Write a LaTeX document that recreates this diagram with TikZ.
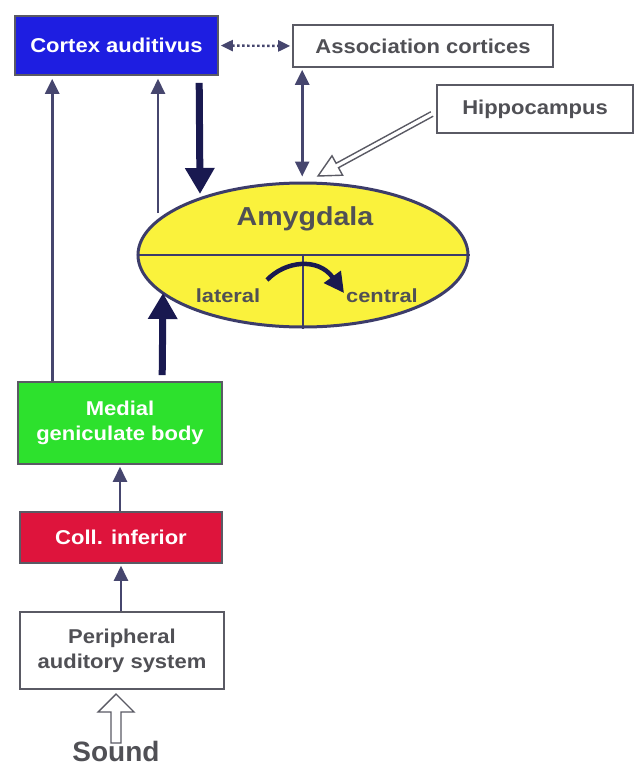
\documentclass[tikz,border=0pt]{standalone}
\usepackage{fontspec}
\setmainfont{Liberation Sans}
\usetikzlibrary{arrows.meta,shapes.geometric,calc}
\definecolor{cblue}{RGB}{30,30,225}
\definecolor{cgreen}{RGB}{45,225,45}
\definecolor{cred}{RGB}{222,20,60}
\definecolor{cyel}{RGB}{250,242,60}
\definecolor{txt}{RGB}{80,80,85}
\definecolor{arr}{RGB}{70,70,110}
\definecolor{navy}{RGB}{25,25,80}
\definecolor{bord}{RGB}{90,90,100}
\newcommand{\wdA}[1]{\scalebox{1.1}[1]{#1}}
\newcommand{\wdB}[1]{\scalebox{1.15}[1]{#1}}
\begin{document}
\begin{tikzpicture}[x=1pt,y=-1pt,
  box/.style={draw=bord,line width=1.6pt,rectangle,inner sep=0pt,align=center,font=\bfseries\fontsize{20}{25}\selectfont,text=txt},
  cbox/.style={box,text=white},
  thinarrow/.style={draw=arr,line width=2.6pt,-{Triangle[length=15pt,width=14pt]}},
  botharrow/.style={draw=arr,line width=2.6pt,{Triangle[length=15pt,width=14pt]}-{Triangle[length=15pt,width=14pt]}},
  dotarrow/.style={draw=arr,line width=2.4pt,dash pattern=on 2.5pt off 2.5pt,{Triangle[length=12pt,width=11pt]}-{Triangle[length=12pt,width=11pt]}},
  thickarrow/.style={draw=navy,line width=7pt,-{Triangle[length=26pt,width=28pt]}},
  openarrow/.style={draw=bord,line width=1.4pt,fill=white,line join=miter},
  intext/.style={font=\bfseries\fontsize{19}{22}\selectfont,text=txt}
]
\useasboundingbox (0,0) rectangle (636,769);
\fill[white] (0,0) rectangle (636,769);

\node[cbox,fill=cblue,minimum width=203pt,minimum height=59pt] (cortex) at (116.5,45.5) {\wdA{Cortex auditivus}};
\node[box,minimum width=260pt,minimum height=42pt] (assoc) at (423,46) {\wdA{Association cortices}};
\node[box,minimum width=196pt,minimum height=48pt] (hippo) at (535,109) {\wdA{Hippocampus}};
\node[cbox,fill=cgreen,minimum width=204pt,minimum height=82pt] (mgb) at (120,423) {\wdA{Medial}\\\wdA{geniculate body}};
\node[cbox,fill=cred,minimum width=202pt,minimum height=51pt] (coll) at (121,537.5) {\wdA{Coll. inferior}};
\node[box,minimum width=204pt,minimum height=77pt] (periph) at (122,650.5) {\wdA{Peripheral}\\\wdA{auditory system}};

\node[ellipse,draw=navy!85,line width=3pt,fill=cyel,minimum width=330pt,minimum height=144pt,inner sep=0pt] (amy) at (303,255) {};
\draw[navy!85,line width=1.6pt] (amy.west) -- (amy.east);
\draw[navy!85,line width=1.6pt] (amy.center) -- (amy.south);
\node[font=\bfseries\fontsize{26}{30}\selectfont,text=txt] (amytxt) at (305,219) {\wdA{Amygdala}};
\node[intext] (lat) at (228,296) {\wdB{lateral}};
\node[intext] (cen) at (382,296) {\wdB{central}};
\coordinate (cs) at (267,280);
\coordinate (ce) at (344,293);
\draw[navy,line width=4.5pt,-{Triangle[length=20pt,width=20pt]}] (cs) .. controls (285,261) and (318,257) .. (ce);

% connectors
\draw[dotarrow,shorten <=2pt,shorten >=2pt] (cortex.east) -- (assoc.west);
\coordinate (atop) at ($(assoc.south west)+(10,0)$);
\draw[botharrow,shorten <=2pt,shorten >=5pt] (atop) -- (atop |- amy.north);

\coordinate (m1) at ($(mgb.north west)+(35,0)$);
\draw[thinarrow,shorten >=3pt] (m1) -- (m1 |- cortex.south);
\coordinate (e1) at (158,213);
\draw[thinarrow,shorten >=3pt] (e1) -- (e1 |- cortex.south);

\coordinate (d1) at ($(cortex.south west)+(185,7)$);
\coordinate (d2) at (200,194);
\draw[thickarrow] (d1) -- (d2);

\coordinate (u1) at ($(mgb.north west)+(145,-6)$);
\coordinate (u2) at (163,293);
\draw[thickarrow] (u1) -- (u2);

\draw[thinarrow,shorten >=2pt] (coll.north -| mgb.south) -- (mgb.south);
\draw[thinarrow,shorten >=2pt] (periph.north -| coll.south) -- (coll.south);

% hippocampus open double arrow
\draw[openarrow] (430.8,111.8) -- (336.1,163.3) -- (332.0,155.8) -- (318,176) -- (342.6,175.2) -- (338.5,167.7) -- (433.2,116.2);
\fill[white] (337.0,164.6) -- (337.6,166.4) -- (431.5,115.6) -- (431.5,112.6) -- cycle;

% sound arrow
\draw[openarrow] (111,743) -- (111,712) -- (98,712) -- (116,694) -- (134,712) -- (121,712) -- (121,743) -- cycle;
\node[font=\bfseries\fontsize{28}{32}\selectfont,text=txt,anchor=base,inner sep=0pt] (sound) at (116,761) {Sound};
\end{tikzpicture}
\end{document}
